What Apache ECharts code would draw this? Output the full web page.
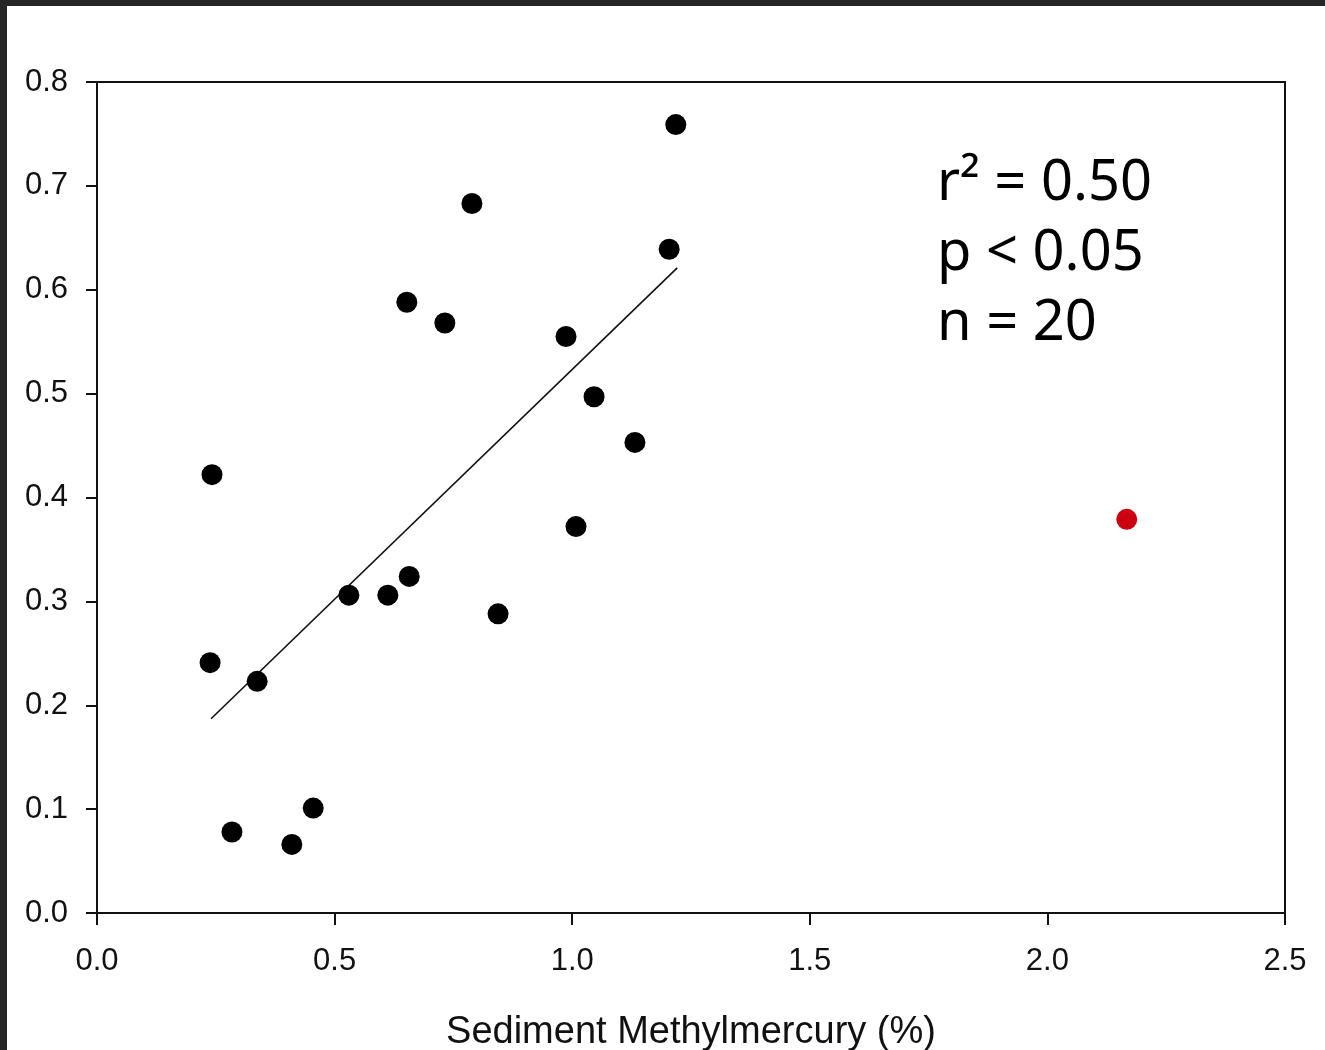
<!DOCTYPE html>
<html>
<head>
<meta charset="utf-8">
<title>Sediment Methylmercury</title>
<script src="https://cdn.jsdelivr.net/npm/echarts@6/dist/echarts.min.js"></script>
<style>
	html, body { margin: 0; padding: 0; background: #fff; }
	#chart { width: 1325px; height: 1050px; }
</style>
</head>
<body>
<div id="chart"></div>
<script>
	// values
	var blackX = [1.218, 0.789, 1.204, 0.652, 0.732, 0.987, 1.046, 1.132, 0.242, 1.008,
		0.657, 0.530, 0.612, 0.844, 0.238, 0.337, 0.455, 0.284, 0.410];
	var blackY = [0.759, 0.683, 0.639, 0.588, 0.568, 0.555, 0.497, 0.453, 0.422, 0.372,
		0.324, 0.306, 0.306, 0.288, 0.241, 0.223, 0.101, 0.078, 0.066];
	var outlierX = [2.167];
	var outlierY = [0.379];
	// regression line end points
	var fitX = [0.240, 1.221];
	var fitY = [0.187, 0.621];
	var statLines = ['r\u00b2 = 0.50', 'p < 0.05', 'n = 20'];
	var xTitle = 'Sediment Methylmercury (%)';

	function pairs(xs, ys) {
		var out = [];
		for (var i = 0; i < xs.length; i++) {
			out.push([xs[i], ys[i]]);
		}
		return out;
	}

	var chart = echarts.init(document.getElementById('chart'));
	var labelFont = { color: '#111', fontFamily: 'Liberation Sans', fontSize: 31 };

	var option = {
		backgroundColor: '#fff',
		animation: false,
		grid: {
			left: 97, top: 82, right: 40, bottom: 137,
			outerBoundsMode: 'none', containLabel: false,
			show: true, borderColor: '#111', borderWidth: 2
		},
		xAxis: {
			type: 'value', min: 0, max: 2.5, interval: 0.5,
			name: xTitle, nameLocation: 'middle', nameGap: 101,
			nameTextStyle: { color: '#111', fontFamily: 'Liberation Sans', fontSize: 38 },
			axisLine: { show: true, lineStyle: { color: '#111', width: 2 } },
			axisTick: { show: true, length: 12, lineStyle: { color: '#111', width: 2 } },
			axisLabel: $label(33, function(v) { return v.toFixed(1); }),
			splitLine: { show: false }
		},
		yAxis: {
			type: 'value', min: 0, max: 0.8, interval: 0.1,
			axisLine: { show: true, lineStyle: { color: '#111', width: 2 } },
			axisTick: { show: true, length: 11, lineStyle: { color: '#111', width: 2 } },
			axisLabel: $label(29, function(v) { return v.toFixed(1); }),
			splitLine: { show: false }
		},
		graphic: [
			{ type: 'rect', shape: { x: 0, y: 0, width: 1325, height: 6 }, style: { fill: '#262626' }, z: 100 },
			{ type: 'rect', shape: { x: 0, y: 0, width: 7, height: 1050 }, style: { fill: '#262626' }, z: 100 },
			{
				type: 'text', left: 937, top: 149, z: 100,
				style: {
					text: statLines.join('\n'),
					fill: '#000',
					fontFamily: 'Noto Sans',
					fontSize: 56,
					lineHeight: 70
				}
			}
		],
		series: [
			{
				type: 'line',
				data: pairs(fitX, fitY),
				symbol: 'none',
				lineStyle: { color: '#111', width: 1.6 },
				z: 1
			},
			{
				type: 'scatter',
				data: pairs(blackX, blackY),
				symbol: 'circle',
				symbolSize: 21,
				itemStyle: { color: '#000', opacity: 1 },
				z: 2
			},
			{
				type: 'scatter',
				data: pairs(outlierX, outlierY),
				symbol: 'circle',
				symbolSize: 21,
				itemStyle: { color: '#cc0011', opacity: 1 },
				z: 2
			}
		]
	};

	function $label(margin, fmt) {
		return {
			show: true, margin: margin, formatter: fmt,
			color: labelFont.color, fontFamily: labelFont.fontFamily, fontSize: labelFont.fontSize
		};
	}

	chart.setOption(option);
</script>
</body>
</html>
